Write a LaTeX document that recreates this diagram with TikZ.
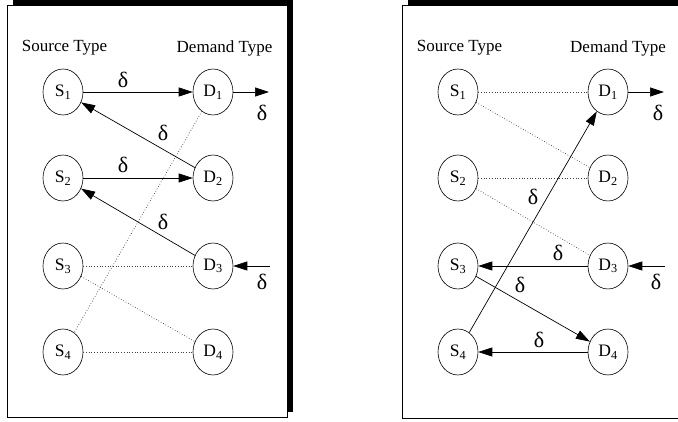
\documentclass[tikz,border=0pt]{standalone}
\usepackage{fontspec}
\setmainfont{Liberation Serif}
\usetikzlibrary{shapes.geometric,arrows.meta}
\begin{document}
\begin{tikzpicture}[x=1pt,y=-1pt,
  state/.style={ellipse,draw,line width=0.6pt,inner sep=0pt,minimum width=40pt,minimum height=46pt,font=\fontsize{17.5}{19}\selectfont},
  title/.style={font=\fontsize{17}{19}\selectfont},
  dlab/.style={font=\fontsize{22}{24}\selectfont,inner sep=0pt},
  flow/.style={line width=0.7pt,-{Triangle[length=14pt,width=9pt]}},
  link/.style={line width=0.7pt,dotted,black!75},
  frame/.style={draw,line width=0.8pt,fill=white},
  shadow/.style={fill=black}]
\clip (0,0) rectangle (678,422);
\fill[white] (0,0) rectangle (678,422);
% left panel frame
\fill[shadow] (13,-2) rectangle (293,412);
\draw[frame] (7,5) rectangle (287,417);
% right panel frame
\fill[shadow] (408,-2) rectangle (690,412);
\draw[frame] (402,5) rectangle (684,418);

% ---------- left panel ----------
\node[title] (lst) at (64.5,48) {Source Type};
\node[title] (ldt) at (224.5,48) {Demand Type};
\node[state] (lS1) at (63,92) {S\textsubscript{1}};
\node[state] (lS2) at (63,178) {S\textsubscript{2}};
\node[state] (lS3) at (63,266) {S\textsubscript{3}};
\node[state] (lS4) at (63,352) {S\textsubscript{4}};
\node[state] (lD1) at (213,92) {D\textsubscript{1}};
\node[state] (lD2) at (213,178) {D\textsubscript{2}};
\node[state] (lD3) at (213,266) {D\textsubscript{3}};
\node[state] (lD4) at (213,352) {D\textsubscript{4}};
\coordinate (lout) at (269,92);
\coordinate (lin) at (270,266);

\draw[link] (lD1) -- (lS4);
\draw[link] (lS3) -- (lD3);
\draw[link] (lS3) -- (lD4);
\draw[link] (lS4) -- (lD4);
\draw[flow] (lS1) -- (lD1);
\draw[flow] (lD2) -- (lS1);
\draw[flow] (lS2) -- (lD2);
\draw[flow] (lD3) -- (lS2);
\draw[flow] (lD1) -- (lout);
\draw[flow] (lin) -- (lD3);

\node[dlab] (ld1) at (123,80) {δ};
\node[dlab] (ld2) at (163,133) {δ};
\node[dlab] (ld3) at (123,165) {δ};
\node[dlab] (ld4) at (163,222) {δ};
\node[dlab] (ld5) at (262,113) {δ};
\node[dlab] (ld6) at (262,282) {δ};

% ---------- right panel ----------
\node[title] (rst) at (459.5,48) {Source Type};
\node[title] (rdt) at (618,48) {Demand Type};
\node[state] (rS1) at (458,92) {S\textsubscript{1}};
\node[state] (rS2) at (458,178) {S\textsubscript{2}};
\node[state] (rS3) at (458,266) {S\textsubscript{3}};
\node[state] (rS4) at (458,352) {S\textsubscript{4}};
\node[state] (rD1) at (608,92) {D\textsubscript{1}};
\node[state] (rD2) at (608,178) {D\textsubscript{2}};
\node[state] (rD3) at (608,266) {D\textsubscript{3}};
\node[state] (rD4) at (608,352) {D\textsubscript{4}};
\coordinate (rout) at (664,92);
\coordinate (rin) at (665,266);

\draw[link] (rS1) -- (rD1);
\draw[link] (rS1) -- (rD2);
\draw[link] (rS2) -- (rD2);
\draw[link] (rS2) -- (rD3);
\draw[flow] (rS4) -- (rD1);
\draw[flow] (rD3) -- (rS3);
\draw[flow] (rS3) -- (rD4);
\draw[flow] (rD4) -- (rS4);
\draw[flow] (rD1) -- (rout);
\draw[flow] (rin) -- (rD3);

\node[dlab] (rd1) at (533,197) {δ};
\node[dlab] (rd2) at (558,253) {δ};
\node[dlab] (rd3) at (520,285) {δ};
\node[dlab] (rd4) at (539,340) {δ};
\node[dlab] (rd5) at (658,113) {δ};
\node[dlab] (rd6) at (656,282) {δ};
\end{tikzpicture}
\end{document}
